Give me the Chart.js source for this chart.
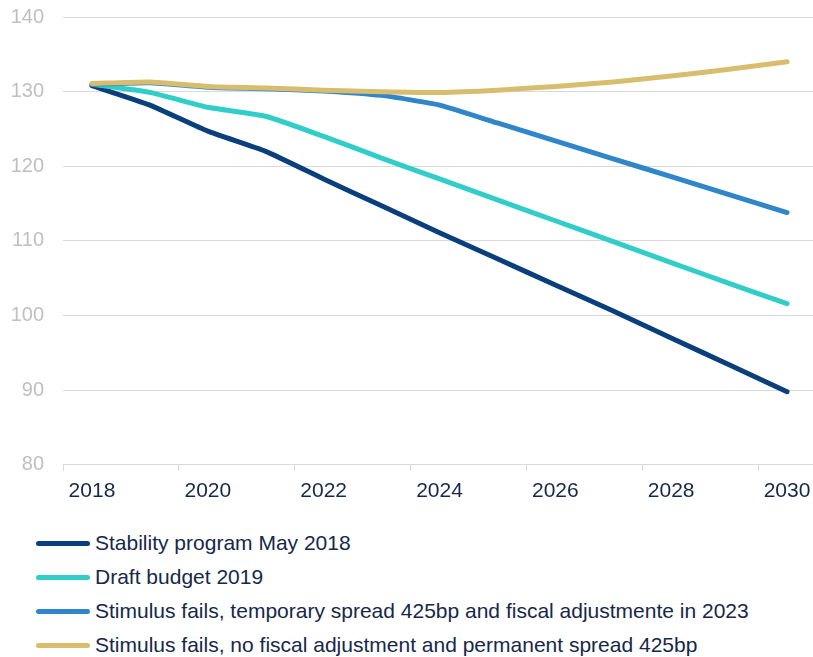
<!DOCTYPE html>
<html>
<head>
<meta charset="utf-8">
<script src="https://cdn.jsdelivr.net/npm/chart.js@4.4.1/dist/chart.umd.min.js"></script>
<style>
  html, body { margin: 0; padding: 0; background: #fff; }
  body { width: 813px; height: 657px; overflow: hidden; font-family: "Liberation Sans", Arial, sans-serif; }
  #wrap { position: relative; width: 813px; height: 512px; overflow: hidden; }
  #legend { position: absolute; left: 36px; top: 526px; }
  .item { display: flex; align-items: center; height: 34px; font-size: 21px; color: #16284a; }
  .swatch { width: 54px; height: 5px; border-radius: 3px; margin-right: 5px; }
</style>
</head>
<body>
<div id="wrap"><canvas id="chart" width="816" height="512"></canvas></div>
<div id="legend"></div>
<script>
// ---- data ----
const years = ['2018','2019','2020','2021','2022','2023','2024','2025','2026','2027','2028','2029','2030'];
const stability2018 = [130.8, 128.2, 124.7, 122.0, 118.3, 114.7, 111.1, 107.6, 104.1, 100.6, 97.0, 93.4, 89.8];
const draftBudget2019 = [131.0, 129.9, 127.9, 126.7, 124.0, 121.1, 118.3, 115.5, 112.7, 109.9, 107.1, 104.3, 101.6];
const temporarySpread = [131.0, 131.2, 130.6, 130.4, 130.1, 129.5, 128.2, 125.8, 123.4, 121.0, 118.6, 116.2, 113.8];
const permanentSpread = [131.1, 131.3, 130.7, 130.5, 130.2, 130.0, 129.9, 130.2, 130.7, 131.3, 132.1, 133.0, 134.0];
const yTicks = [80, 90, 100, 110, 120, 130, 140];

const GRID = '#d9d9d9';
const TEXT = '#16284a';

const series = [
  { label: 'Stability program May 2018', data: stability2018, color: '#0a3f7d', order: 3 },
  { label: 'Draft budget 2019', data: draftBudget2019, color: '#30cdc9', order: 2 },
  { label: 'Stimulus fails, temporary spread 425bp and fiscal adjustmente in 2023', data: temporarySpread, color: '#2f86c9', order: 1 },
  { label: 'Stimulus fails, no fiscal adjustment and permanent spread 425bp', data: permanentSpread, color: '#d8bd6f', order: 0 }
];

const chart = new Chart(document.getElementById('chart').getContext('2d'), {
  type: 'line',
  data: {
    labels: years,
    datasets: series.map(s => ({
      label: s.label,
      data: s.data,
      borderColor: s.color,
      backgroundColor: s.color,
      borderWidth: 5,
      pointRadius: 0,
      tension: 0.15,
      borderCapStyle: 'round',
      borderJoinStyle: 'round',
      order: s.order
    }))
  },
  options: {
    responsive: false,
    animation: false,
    maintainAspectRatio: false,
    layout: { padding: { top: 17, right: 0, left: 0, bottom: 0 } },
    plugins: { legend: { display: false }, tooltip: { enabled: false } },
    scales: {
      x: {
        offset: true,
        afterFit: scale => { scale.paddingLeft = 0; scale.paddingRight = 0; },
        grid: {
          offset: true,
          drawOnChartArea: false,
          drawTicks: true,
          tickLength: 6,
          color: ctx => (ctx.index % 2 === 0 ? GRID : 'rgba(0,0,0,0)')
        },
        border: { display: true, color: GRID, width: 1 },
        ticks: {
          autoSkip: false,
          maxRotation: 0,
          padding: 8,
          color: TEXT,
          font: { family: 'Liberation Sans', size: 21 },
          callback: (v, i) => (i % 2 === 0 ? years[i] : '')
        }
      },
      y: {
        min: 80,
        max: 140,
        afterBuildTicks: scale => { scale.ticks = yTicks.map(v => ({ value: v })); },
        afterFit: scale => { scale.width = 63; scale.paddingTop = 0; scale.paddingBottom = 0; },
        grid: { color: GRID, drawTicks: false },
        border: { display: false },
        ticks: {
          padding: 19,
          color: '#bfbfbf',
          font: { family: 'Liberation Sans', size: 20 }
        }
      }
    }
  }
});

// legend as a vertical list under the chart
document.getElementById('legend').innerHTML = series.map(s => `
  <div class="item"><span class="swatch" style="background:${s.color}"></span>${s.label}</div>
`).join('');
</script>
</body>
</html>
